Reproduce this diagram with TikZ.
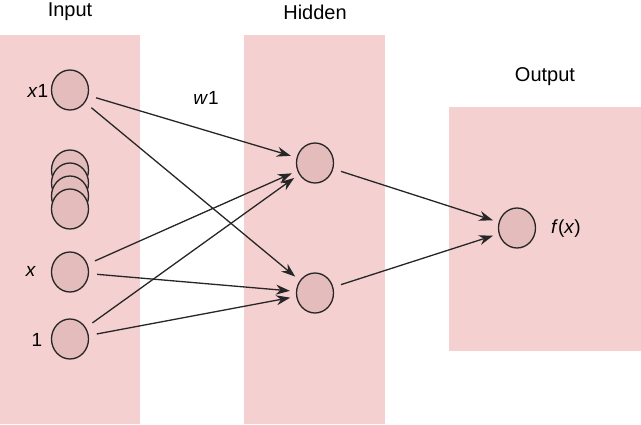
\documentclass[tikz,border=0pt]{standalone}
\usepackage{fontspec}
\setmainfont{Liberation Sans}
\usetikzlibrary{arrows.meta,shapes.geometric}

\definecolor{panelpink}{HTML}{F4D0D0}
\definecolor{unitpink}{HTML}{E4BCBC}

\tikzset{
  unit/.style={ellipse,draw=black!85,line width=1.3pt,fill=unitpink,
    minimum width=37pt,minimum height=40pt,inner sep=0pt},
  wire/.style={draw=black!85,line width=1.3pt,
    -{Stealth[length=14pt,width=10pt]},shorten <=8pt,shorten >=6pt},
  lbl/.style={font=\fontsize{19}{21}\selectfont},
  title/.style={font=\fontsize{20}{24}\selectfont}
}

\begin{document}
\begin{tikzpicture}[x=1pt,y=-1pt]
        \useasboundingbox (0,0) rectangle (641,424);

        \fill[panelpink] (0,35) rectangle (140,424);
        \fill[panelpink] (244,35) rectangle (385,424);
        \fill[panelpink] (449,107) rectangle (641,351);

        \node[title] (tin) at (70,12) {Input};
        \node[title] (thid) at (315,12) {Hidden};
        \node[title] (tout) at (545,77) {Output};

        \node[unit] (x1) at (70,90) {};
        \node[unit] (s1) at (70,170) {};
        \node[unit] (s2) at (70,183) {};
        \node[unit] (s3) at (70,196) {};
        \node[unit] (s4) at (70,209) {};
        \node[unit] (xx) at (70,272) {};
        \node[unit] (one) at (70,339) {};

        \node[unit] (h1) at (315,163) {};
        \node[unit] (h2) at (315,293) {};

        \node[unit] (out) at (517,228) {};

        \node[lbl] (lx1) at (38,91) {\textit{x}1};
        \node[lbl] (lxx) at (31,271) {\textit{x}};
        \node[lbl] (lone) at (37,340) {1};
        \node[lbl] (lw1) at (206,98) {\textit{w}1};
        \node[lbl] (lf) at (566,229) {\textit{f}(\textit{x})};

        \draw[wire] (x1) -- (h1);
        \draw[wire] (x1) -- (h2);
        \draw[wire] (xx) -- (h1);
        \draw[wire] (xx) -- (h2);
        \draw[wire] (one) -- (h1);
        \draw[wire] (one) -- (h2);
        \draw[wire] (h1) -- (out);
        \draw[wire] (h2) -- (out);

      \end{tikzpicture}
\end{document}
